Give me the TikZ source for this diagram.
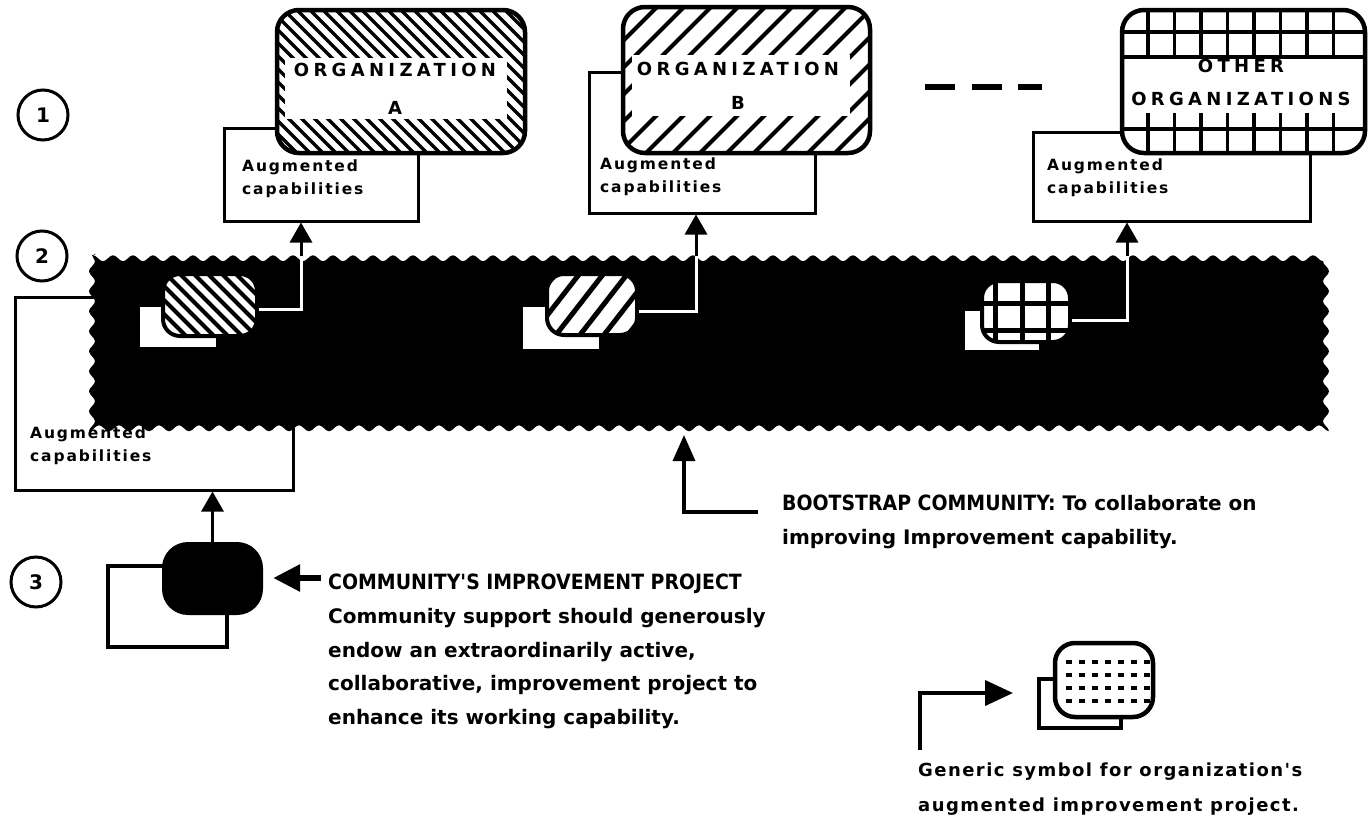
\documentclass[tikz,border=0pt]{standalone}
\usepackage{fontspec}
\setmainfont{DejaVu Sans}
\newfontfamily\condf{DejaVu Sans Condensed}
\newfontfamily\orgf[LetterSpace=24]{DejaVu Sans}
\newfontfamily\augf[LetterSpace=12]{DejaVu Sans}
\newfontfamily\genf[LetterSpace=8]{DejaVu Sans}
\usetikzlibrary{arrows.meta,decorations.pathmorphing,calc,fit}
\begin{document}
\begin{tikzpicture}[x=1pt,y=-1pt,
 augbox/.style={draw, line width=3pt, fill=white, inner sep=0pt},
 orgline/.style={draw, line width=4.5pt, rounded corners=22pt, inner sep=0pt},
 upar/.style={line width=3pt, -{Triangle[width=22pt,length=20pt]}},
 augtxt/.style={font=\augf\bfseries\fontsize{15.5}{23}\selectfont, align=left, inner sep=0pt, anchor=north west},
 orgtxt/.style={font=\orgf\bfseries\fontsize{18}{38}\selectfont, align=center, inner sep=0pt},
 numc/.style={circle, draw, line width=3pt, minimum size=50pt, inner sep=0pt, font=\bfseries\fontsize{20}{20}\selectfont},
 bodytxt/.style={font=\bfseries\fontsize{20}{33.7}\selectfont, align=left, inner sep=0pt, anchor=north west},
 gentxt/.style={font=\genf\bfseries\fontsize{18}{35}\selectfont, align=left, inner sep=0pt, anchor=north west},
 wline/.style={white, line width=3pt},
 symline/.style={draw=black, line width=4pt, rounded corners=17pt, inner sep=0pt},
]
\useasboundingbox (0,0) rectangle (1368,827);

% level numbers
\node[numc] (c1) at (43,115) {1};
\node[numc] (c2) at (42,256) {2};
\node[numc] (c3) at (36,582) {3};

% community augmented capabilities box (behind band)
\node[augbox, fit={(15,297) (293,490)}] (augC) {};
\node[augtxt] (augCtxt) at (30,427) {Augmented\\capabilities};

% band
\fill[black, decorate, decoration={snake, segment length=20pt, amplitude=3pt}] (92,255) rectangle (1332,427);
\coordinate (tapA) at (301,256);
\coordinate (tapB) at (696,256);
\coordinate (tapO) at (1127,256);

% small symbol A
\fill[white] (140,307) rectangle (216,347);
\begin{scope}
 \clip[rounded corners=17pt] (163,274) rectangle (257,336);
 \fill[white] (163,274) rectangle (257,336);
 \foreach \i in {90,104,...,270} \draw[line width=4pt] (\i,268) -- (\i+72,340);
\end{scope}
\node[symline, fit={(163,274) (257,336)}] (symA) {};
\draw[wline] ([yshift=-4pt]symA.east) -| (tapA);

% small symbol B
\fill[white] (523,307) rectangle (599,349);
\begin{scope}
 \clip[rounded corners=17pt] (547,274) rectangle (637,335);
 \fill[white] (547,274) rectangle (637,335);
 \foreach \i in {480,504,...,650} \draw[line width=5pt] (\i,340) -- (\i+56,268);
\end{scope}
\node[symline, fit={(547,274) (637,335)}] (symB) {};
\draw[wline] ([yshift=-7pt]symB.east) -| (tapB);

% small symbol other
\fill[white] (965,311) rectangle (1039,350);
\begin{scope}
 \clip[rounded corners=17pt] (982,281) rectangle (1070,342);
 \fill[white] (982,281) rectangle (1070,342);
 \foreach \xx in {995,1022,1048} \draw[line width=5pt] (\xx,275) -- (\xx,350);
 \foreach \yy in {303,330} \draw[line width=5pt] (975,\yy) -- (1078,\yy);
\end{scope}
\node[symline, fit={(982,281) (1070,342)}] (symO) {};
\draw[wline] ([yshift=-9pt]symO.east) -| (tapO);

% ---------- Organization A
\node[augbox, fit={(224,128) (418,221)}] (augA) {};
\node[augtxt] (augAtxt) at (242,160) {Augmented\\capabilities};
\begin{scope}
 \clip[rounded corners=22pt] (277,10) rectangle (525,153);
 \fill[white] (277,10) rectangle (525,153);
 \foreach \i in {110,123,...,530} \draw[line width=3.5pt] (\i,5) -- (\i+155,160);
 \fill[white] (285,58) rectangle (507,119);
\end{scope}
\node[orgline, fit={(277,10) (525,153)}] (orgA) {};
\node[orgtxt] (orgAtxt) at (395,89) {ORGANIZATION\\A};

% ---------- Organization B
\node[augbox, fit={(589,72) (815,213)}] (augB) {};
\node[augtxt] (augBtxt) at (600,158) {Augmented\\capabilities};
\begin{scope}
 \clip[rounded corners=22pt] (623,7) rectangle (870,153);
 \fill[white] (623,7) rectangle (870,153);
 \foreach \i in {450,477,...,880} \draw[line width=4pt] (\i,160) -- (\i+155,5);
 \fill[white] (632,55) rectangle (850,116);
\end{scope}
\node[orgline, fit={(623,7) (870,153)}] (orgB) {};
\node[orgtxt, font=\orgf\bfseries\fontsize{18}{34}\selectfont] (orgBtxt) at (738,86) {ORGANIZATION\\B};

% dashes
\foreach \a/\b in {925/955, 972/1002, 1018/1042} \draw[line width=6pt] (\a,87) -- (\b,87);

% ---------- Other organizations
\node[augbox, fit={(1033,132) (1310,221)}] (augO) {};
\node[augtxt] (augOtxt) at (1047,159) {Augmented\\capabilities};
\begin{scope}
 \clip[rounded corners=22pt] (1122,10) rectangle (1365,153);
 \fill[white] (1122,10) rectangle (1365,153);
 \foreach \yy in {32,57,129} \draw[line width=3.5pt] (1115,\yy) -- (1370,\yy);
 \foreach \k in {0,...,7} {
   \draw[line width=3.5pt] (1148+26.5*\k,5) -- (1148+26.5*\k,57);
   \draw[line width=3.5pt] (1148+26.5*\k,113) -- (1148+26.5*\k,160);
 }
\end{scope}
\node[orgline, fit={(1122,10) (1365,153)}] (orgO) {};
\node[orgtxt, font=\orgf\bfseries\fontsize{18}{33}\selectfont] (orgOtxt) at (1241,82) {OTHER\\ORGANIZATIONS};

% arrows from band to augmented capability boxes
\draw[upar] (tapA) -- (tapA |- augA.south);
\draw[upar] (tapB) -- (tapB |- augB.south);
\draw[upar] (tapO) -- (tapO |- augO.south);

% ---------- community improvement project
\draw[line width=4pt, fill=white] (108,566) rectangle (227,647);
\node[fill=black, rounded corners=26pt, inner sep=0pt, fit={(162,542) (263,615)}] (sym3) {};
\draw[upar] (sym3.north) -- (sym3.north |- augC.south);

\coordinate (commTail) at (321,578);
\draw[line width=6pt, -{Triangle[width=26pt,length=27pt]}] (commTail) -- ([xshift=10pt]sym3.east |- commTail);
\node[bodytxt] (comm) at (328,574) {{\condf\fontsize{21}{33.7}\selectfont COMMUNITY'S IMPROVEMENT PROJECT}\\
Community support should generously\\
endow an extraordinarily active,\\
collaborative, improvement project to\\
enhance its working capability.};

% ---------- bootstrap community
\coordinate (bootTail) at (758,512);
\coordinate (bootTip) at (684,435);
\draw[line width=3.5pt, -{Triangle[width=22pt,length=26pt]}] (bootTail) -| (bootTip);
\node[bodytxt] (boot) at (782,495) {{\condf\fontsize{21}{33.7}\selectfont BOOTSTRAP COMMUNITY:} To collaborate on\\
improving Improvement capability.};

% ---------- generic symbol
\draw[line width=4pt, fill=white] (1039,679) rectangle (1121,728);
\begin{scope}
 \clip[rounded corners=20pt] (1055,643) rectangle (1153,717);
 \fill[white] (1055,643) rectangle (1153,717);
 \foreach \yy in {662,675,688,701} \draw[line width=4pt, dash pattern=on 6pt off 7pt] (1066,\yy) -- (1150,\yy);
\end{scope}
\node[draw, line width=4.5pt, rounded corners=20pt, inner sep=0pt, fit={(1055,643) (1153,717)}] (genSym) {};
\coordinate (genTail) at (920,750);
\coordinate (genTip) at (1013,693);
\draw[line width=4pt, -{Triangle[width=25pt,length=28pt]}] (genTail) |- (genTip);
\node[gentxt] (gen) at (918,763) {Generic symbol for organization's\\augmented improvement project.};
\end{tikzpicture}
\end{document}
